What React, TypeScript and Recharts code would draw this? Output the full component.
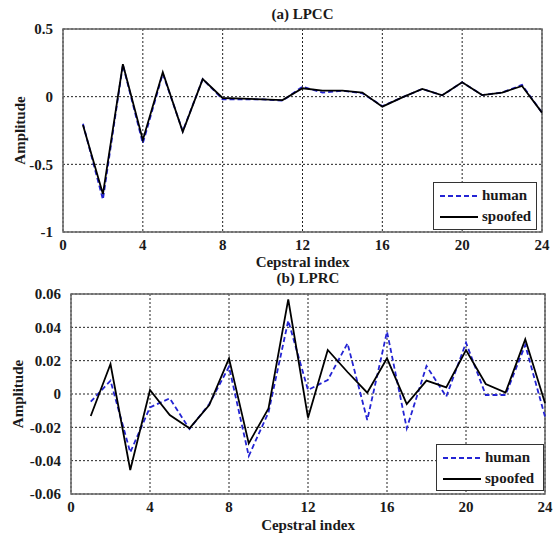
import {
  LineChart,
  Line,
  XAxis,
  YAxis,
  CartesianGrid,
  ReferenceArea,
  Legend
} from "recharts";

const index = [1, 2, 3, 4, 5, 6, 7, 8, 9, 10, 11, 12, 13, 14, 15, 16, 17, 18, 19, 20, 21, 22, 23, 24];
const xTicks = [0, 4, 8, 12, 16, 20, 24];

// (a) LPCC
const lpccHuman = [-0.2, -0.76, 0.235, -0.345, 0.17, -0.255, 0.13, -0.02, -0.02, -0.02, -0.03, 0.074, 0.03, 0.044, 0.025, -0.07, -0.005, 0.057, 0.01, 0.106, 0.012, 0.03, 0.087, -0.118];
const lpccSpoofed = [-0.21, -0.72, 0.24, -0.32, 0.18, -0.26, 0.13, -0.01, -0.015, -0.02, -0.025, 0.062, 0.044, 0.044, 0.03, -0.074, -0.005, 0.057, 0.01, 0.106, 0.012, 0.03, 0.079, -0.118];
const lpccTicks = [-1, -0.5, 0, 0.5];

// (b) LPRC
const lprcHuman = [-0.0046, 0.008, -0.035, -0.008, -0.0026, -0.021, -0.006, 0.0164, -0.0372, -0.011, 0.044, 0.0024, 0.0084, 0.0304, -0.0156, 0.0374, -0.0206, 0.0168, -0.0016, 0.0308, -0.0006, -0.0006, 0.0294, -0.0136];
const lprcSpoofed = [-0.0132, 0.018, -0.0456, 0.0024, -0.0126, -0.0206, -0.0066, 0.0214, -0.0296, -0.0086, 0.0568, -0.0142, 0.0264, 0.0132, 0.0008, 0.0214, -0.006, 0.008, 0.004, 0.0264, 0.006, 0.0008, 0.0328, -0.0054];
const lprcTicks = [-0.06, -0.04, -0.02, 0, 0.02, 0.04, 0.06];

const FONT = "'Liberation Serif', 'Times New Roman', serif";
const BLUE = "#2424d4";

const toRows = (human: number[], spoofed: number[]) =>
  index.map((x, i) => ({ x, human: human[i], spoofed: spoofed[i] }));

const tickStyle = { fontFamily: FONT, fontWeight: 700, fontSize: 15, fill: "#1a1a1a" };

function AmpLabel(props: any) {
  const vb = props.viewBox;
  const cx = vb.x + props.dxPos;
  const cy = vb.y + vb.height / 2;
  return (
    <text
      x={cx}
      y={cy}
      transform={`rotate(-90 ${cx} ${cy})`}
      textAnchor="middle"
      dominantBaseline="middle"
      style={tickStyle}
    >
      Amplitude
    </text>
  );
}

function LegendBox() {
  const row = (dash: string | undefined, color: string, label: string) => (
    <div style={{ display: "flex", alignItems: "center", height: 21 }}>
      <svg width={42} height={10} style={{ marginLeft: 4 }}>
        <line x1={2} y1={5} x2={40} y2={5} stroke={color} strokeWidth={1.8} strokeDasharray={dash} />
      </svg>
      <span style={{ fontFamily: FONT, fontWeight: 700, fontSize: 15, color: "#1a1a1a", marginLeft: 2 }}>{label}</span>
    </div>
  );
  return (
    <div
      style={{
        border: "1px solid #333",
        background: "#fff",
        padding: "2px 0",
        boxSizing: "border-box",
        width: "100%",
        height: "100%"
      }}
    >
      {row("5 3", BLUE, "human")}
      {row(undefined, "#000", "spoofed")}
    </div>
  );
}

type PanelProps = {
  title: string;
  top: number;
  height: number;
  yAxisWidth: number;
  right: number;
  plotTop: number;
  xAxisHeight: number;
  domain: [number, number];
  yTicks: number[];
  human: number[];
  spoofed: number[];
  legend: { left: number; top: number; width: number; height: number };
  ampX: number;
  titleY: number;
  tickFormat: (v: number) => string;
};

function Panel(p: PanelProps) {
  const data = toRows(p.human, p.spoofed);
  const plotLeft = p.yAxisWidth;
  const plotRight = 557 - p.right;
  return (
    <div style={{ position: "absolute", left: 0, top: p.top, width: 557, height: p.height }}>
      <div
        style={{
          position: "absolute",
          left: plotLeft,
          width: plotRight - plotLeft,
          top: p.titleY - 9,
          textAlign: "center",
          fontFamily: FONT,
          fontWeight: 700,
          fontSize: 15,
          color: "#1a1a1a",
          lineHeight: "18px"
        }}
      >
        {p.title}
      </div>
      <LineChart
        width={557}
        height={p.height}
        data={data}
        margin={{ top: p.plotTop, right: p.right, left: 0, bottom: 0 }}
      >
        <CartesianGrid stroke="#222" strokeDasharray="2 2" strokeWidth={1} />
        <XAxis
          type="number"
          dataKey="x"
          domain={[0, 24]}
          ticks={xTicks}
          tick={tickStyle}
          tickLine={false}
          axisLine={false}
          tickMargin={1}
          height={p.xAxisHeight}
          label={{
            value: "Cepstral index",
            position: "insideBottom",
            offset: 3,
            style: tickStyle
          }}
        />
        <YAxis
          type="number"
          domain={p.domain}
          ticks={p.yTicks}
          tick={tickStyle}
          tickFormatter={p.tickFormat}
          tickLine={false}
          axisLine={false}
          tickMargin={4}
          width={p.yAxisWidth}
          label={<AmpLabel dxPos={p.ampX} />}
        />
        <ReferenceArea
          x1={0}
          x2={24}
          y1={p.domain[0]}
          y2={p.domain[1]}
          fill="none"
          stroke="#666"
          strokeWidth={1.5}
          fillOpacity={0}
        />
        <Line
          type="linear"
          dataKey="human"
          stroke={BLUE}
          strokeWidth={1.8}
          strokeDasharray="5 3"
          dot={false}
          isAnimationActive={false}
        />
        <Line
          type="linear"
          dataKey="spoofed"
          stroke="#000"
          strokeWidth={1.8}
          dot={false}
          isAnimationActive={false}
        />
        <Legend
          layout="vertical"
          align="center"
          verticalAlign="middle"
          content={() => <LegendBox />}
          wrapperStyle={{
            left: p.legend.left,
            top: p.legend.top,
            width: p.legend.width,
            height: p.legend.height,
            bottom: "auto",
            right: "auto"
          }}
        />
      </LineChart>
    </div>
  );
}

export default function App() {
  return (
    <div style={{ position: "absolute", left: 0, top: 0, width: 557, height: 533, background: "#fff" }}>
      <Panel
        title="(a) LPCC"
        top={0}
        height={270}
        yAxisWidth={63}
        right={15}
        plotTop={29}
        xAxisHeight={38}
        domain={[-1, 0.5]}
        yTicks={lpccTicks}
        human={lpccHuman}
        spoofed={lpccSpoofed}
        legend={{ left: 433, top: 182, width: 104, height: 48 }}
        ampX={22}
        titleY={14}
        tickFormat={(v) => String(v)}
      />
      <Panel
        title="(b) LPRC"
        top={265}
        height={268}
        yAxisWidth={71}
        right={12}
        plotTop={29}
        xAxisHeight={39}
        domain={[-0.06, 0.06]}
        yTicks={lprcTicks}
        human={lprcHuman}
        spoofed={lprcSpoofed}
        legend={{ left: 436, top: 179, width: 108, height: 47 }}
        ampX={20}
        titleY={13}
        tickFormat={(v) => (v === 0 ? "0" : v.toFixed(2))}
      />
    </div>
  );
}
